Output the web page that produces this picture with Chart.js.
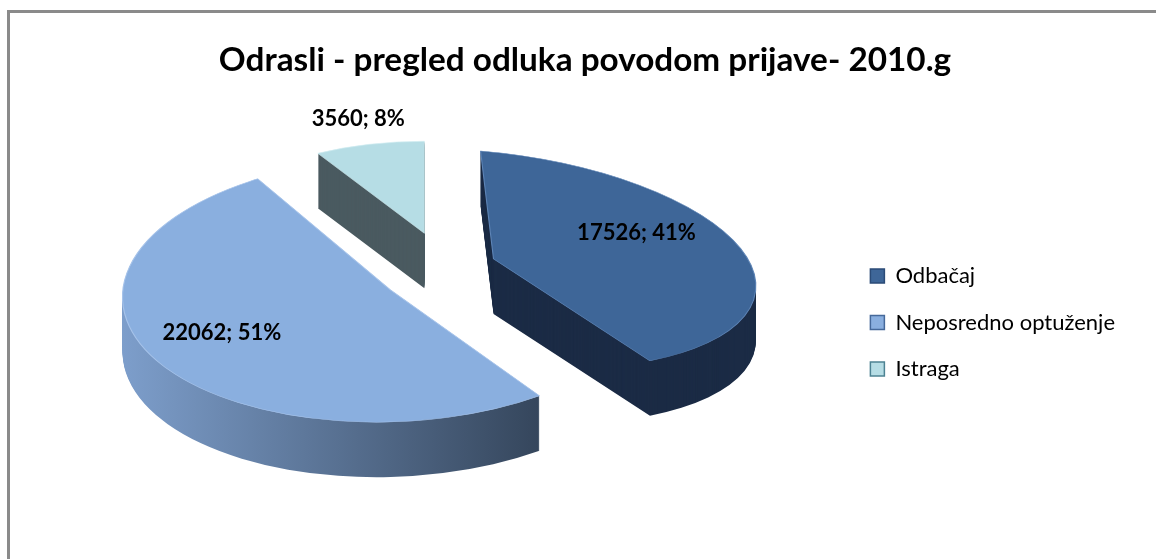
<!DOCTYPE html>
<html>
<head>
<meta charset="utf-8">
<script src="https://cdn.jsdelivr.net/npm/chart.js@4.4.1/dist/chart.umd.min.js"></script>
<style>
  html, body { margin: 0; padding: 0; background: #fff; overflow: hidden; }
</style>
</head>
<body>
<canvas id="chart" width="1156" height="559"></canvas>
<script>
// chart data
const categories = ['Odbačaj', 'Neposredno optuženje', 'Istraga'];
const counts = [17526, 22062, 3560];
const chartTitle = 'Odrasli - pregled odluka povodom prijave- 2010.g';

// colours: top face, legend outline, rim line, side wall
const topColors = ['#3e6698', '#8aafdf', '#b6dde5'];
const edgeColors = ['#2b4b77', '#46699a', '#4d8393'];
const rimColors = ['#5d84b6', '#a6c3ea', '#d2edf2'];
const sideColors = ['#1b2b45', null, '#4a5a60'];

const total = counts.reduce((a, b) => a + b, 0);
const percents = counts.map(v => Math.round(v / total * 100));

const canvas = document.getElementById('chart');
const ctx = canvas.getContext('2d');

// legend boxes should start near x=870, so work out the right padding from the text width
const legendFont = {family: 'Lato', size: 22};
ctx.font = legendFont.size + 'px ' + legendFont.family;
const widest = Math.max(...categories.map(c => ctx.measureText(c).width));
const boxW = 14;
const padR = Math.round(1156 - 10 - 870 - (boxW + legendFont.size / 2 + widest));
const padL = padR + 14;   // keeps the title centred near x=585

// draws the pie tilted, with depth, through the arc elements of the chart.
// each slice gets its own squash/shear so the far side looks smaller (fake perspective)
const pie3d = {
  id: 'pie3d',
  beforeDraw(chart) {
    const c = chart.ctx;
    c.save();
    c.fillStyle = '#8a8a8a';
    c.fillRect(7, 10, 3, chart.height - 10);
    c.fillRect(7, 10, chart.width - 7, 3);
    c.restore();
  },
  beforeDatasetsDraw(chart, args, opts) {
    const c = chart.ctx;
    const arcs = chart.getDatasetMeta(0).data;
    const R = arcs[0].outerRadius;
    const x0 = arcs[0].x, y0 = arcs[0].y;

    const centre = (arc) => {
      const mid = (arc.startAngle + arc.endAngle) / 2;
      return [opts.cx + Math.cos(mid) * opts.ex, opts.cy + Math.sin(mid) * opts.ey];
    };

    const paint = (arc, i, fill, stroke, width, dy) => {
      const [px, py] = centre(arc);
      const el = Object.create(arc);
      el.options = Object.assign({}, arc.options, {
        backgroundColor: fill, borderColor: stroke, borderWidth: width, offset: 0
      });
      c.save();
      c.translate(px, py + dy);
      c.transform(1, opts.vshear[i], opts.hshear[i], 1, 0, 0);
      c.scale(opts.rx[i] / R, opts.ry[i] / R);
      c.translate(-x0, -y0);
      el.draw(c);
      c.restore();
    };

    // side walls first
    arcs.forEach((arc, i) => {
      let side = sideColors[i];
      if (!side) {
        side = c.createLinearGradient(x0 - R, 0, x0 + R * Math.cos(arc.startAngle), 0);
        side.addColorStop(0, '#7d9ecb');
        side.addColorStop(1, '#35465c');
      }
      for (let k = opts.depth; k > 0; k--) paint(arc, i, side, side, 0, k);
    });
    // then the tops
    arcs.forEach((arc, i) => paint(arc, i, topColors[i], rimColors[i], 1, 0));

    // value; percent labels
    c.save();
    c.font = 'bold 22px Lato';
    c.fillStyle = '#000';
    c.textAlign = 'center';
    c.textBaseline = 'middle';
    arcs.forEach((arc, i) => {
      const mid = (arc.startAngle + arc.endAngle) / 2;
      const [px, py] = centre(arc);
      const x = px + Math.cos(mid) * opts.labelAt[i] * opts.rx[i];
      const y = py + Math.sin(mid) * opts.labelAt[i] * opts.ry[i] + opts.labelLift;
      c.fillText(counts[i] + '; ' + percents[i] + '%', x, y);
    });
    c.restore();
    return false;
  }
};

Chart.defaults.font.family = 'Lato';

var myChart = new Chart(ctx, {
  type: 'pie',
  data: {
    labels: categories,
    datasets: [{
      data: counts,
      backgroundColor: topColors,
      borderColor: edgeColors,
      borderWidth: 1.5
    }]
  },
  options: {
    responsive: false,
    animation: false,
    layout: {
      padding: {left: padL, right: padR, top: 0, bottom: 4}
    },
    plugins: {
      title: {
        display: true,
        text: chartTitle,
        color: '#000',
        font: {family: 'Lato', size: 33.3, weight: 'bold', lineHeight: 1.2},
        padding: {top: 40, bottom: 10}
      },
      legend: {
        position: 'right',
        fullSize: false,
        labels: {
          boxWidth: boxW,
          boxHeight: 14,
          padding: 24.5,
          color: '#000',
          font: legendFont
        }
      },
      tooltip: {enabled: false},
      pie3d: {
        cx: 439, cy: 270,
        ex: 57, ey: 38,
        rx: [262, 268, 215],
        ry: [108, 132, 92],
        vshear: [0.083, -0.026, 0],
        hshear: [0.12, 0, 0],
        depth: 55,
        labelAt: [0.57, 0.74, 1.2],
        labelLift: -8
      }
    }
  },
  plugins: [pie3d]
});
</script>
</body>
</html>
